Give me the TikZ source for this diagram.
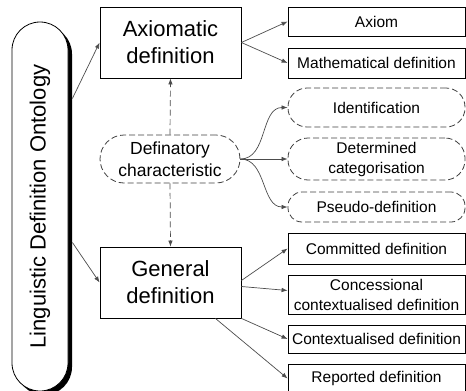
\documentclass[tikz,border=0pt]{standalone}
\usepackage{fontspec}
\setmainfont{Liberation Sans}
\usepackage{tikz}
\usetikzlibrary{arrows.meta}

\begin{document}
\begin{tikzpicture}[x=1pt,y=-1pt,
  bigfont/.style={font=\fontsize{22}{27}\selectfont},
  midfont/.style={font=\fontsize{17.5}{22}\selectfont},
  smallfont/.style={font=\fontsize{15.5}{20}\selectfont},
  mainbox/.style={draw=black,line width=0.8pt,fill=white,rectangle,align=center,inner sep=0pt,
    minimum width=141pt,minimum height=71pt,bigfont},
  leafbox/.style={draw=black,line width=0.8pt,fill=white,rectangle,align=center,inner sep=0pt,
    minimum width=177pt,smallfont},
  dashbox/.style={leafbox,draw=black!75,dash pattern=on 6pt off 3pt,rounded corners=14pt},
  link/.style={draw=black!70,line width=0.7pt,-{Latex[length=6pt,width=4.5pt]}},
  dashlink/.style={link,dash pattern=on 6pt off 3.5pt}]
\useasboundingbox (0,0) rectangle (466,391);
% objects at depth 50:
\fill[black,rounded corners=28pt] (16,26) rectangle (72,395);
\node[draw=black,line width=0.8pt,fill=white,rounded corners=28pt,inner sep=0pt,
  minimum width=56pt,minimum height=369pt,bigfont] (ontology) at (40,206.5)
  {\rotatebox{90}{Linguistic Definition Ontology}};
% objects at depth 40:
\node[mainbox] (axiomatic) at (170.5,42.5) {Axiomatic\\definition};
\node[mainbox,draw=black!75,dash pattern=on 6pt off 3pt,rounded corners=24pt,
  minimum width=140pt,minimum height=48pt,midfont] (definatory) at (170,159)
  {Definatory\\characteristic};
\node[mainbox] (general) at (170.5,282.5) {General\\definition};
% objects at depth 30:
\node[leafbox,minimum height=29pt] (axiom) at (376.5,21.5) {Axiom};
\node[leafbox,minimum height=30pt] (mathdef) at (376.5,63) {Mathematical definition};
\node[dashbox,minimum height=39pt,rounded corners=19pt] (identification) at (376.5,107.5) {Identification};
\node[dashbox,minimum height=42pt,rounded corners=20pt] (determined) at (376.5,159) {Determined\\categorisation};
\node[dashbox,minimum height=30pt] (pseudo) at (376.5,207) {Pseudo-definition};
\node[leafbox,minimum height=31pt] (committed) at (376.5,248.5) {Committed definition};
\node[leafbox,minimum height=39pt] (concessional) at (376.5,294.5) {Concessional\\contextualised definition};
\node[leafbox,minimum height=28pt] (contextualised) at (376.5,339) {Contextualised definition};
\node[leafbox,minimum height=29pt] (reported) at (376.5,378.5) {Reported definition};
% connectors:
\draw[link] ([xshift=4pt,yshift=108pt]ontology.east) -- (axiomatic.west);
\draw[link] ([xshift=4pt,yshift=-36pt]ontology.east) -- (general.west);
\draw[link] (axiomatic.east) -- (axiom.west);
\draw[link] (axiomatic.east) -- (mathdef.west);
\draw[dashlink] (definatory.north) -- (axiomatic.south);
\draw[dashlink] (definatory.south) -- (general.north);
\draw[link] (definatory.east) to[out=0,in=180] (identification.west);
\draw[link] (definatory.east) -- (determined.west);
\draw[link] (definatory.east) to[out=0,in=180] (pseudo.west);
\draw[link] ([yshift=2pt]general.east) -- (committed.west);
\draw[link] ([yshift=-4pt]general.east) -- ([yshift=4pt]concessional.west);
\draw[link] (general.south east) -- (contextualised.west);
\draw[link] ([xshift=-26pt]general.south east) -- (reported.west);
\end{tikzpicture}
\end{document}
